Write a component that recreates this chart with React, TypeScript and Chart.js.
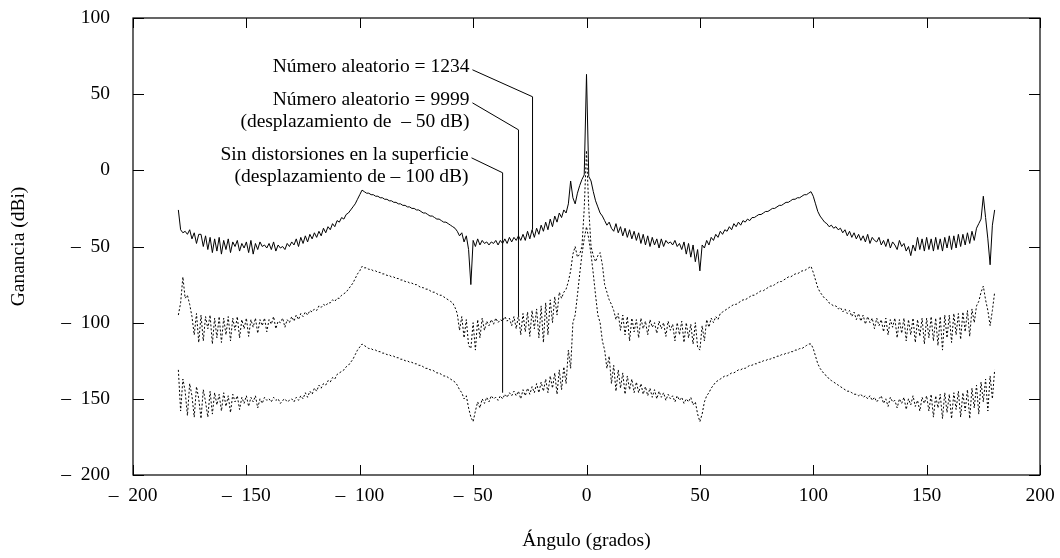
import React, { useEffect, useRef } from "react";
import { Chart, registerables } from "chart.js";

Chart.register(...registerables);

// ---------- data ----------
// Sampling grid of the gain patterns (degrees)
const ANGLE_START = -180;
const ANGLE_STEP = 1;

const X_MIN = -200;
const X_MAX = 200;
const X_STEP = 50;
const Y_MIN = -200;
const Y_MAX = 100;
const Y_STEP = 50;

const X_TITLE = "Ángulo (grados)";
const Y_TITLE = "Ganancia (dBi)";

// Random number 1234 (solid), angles -180 .. 180
const GAIN_SEED_1234 = [
  -26, -39, -41, -40, -42, -39, -45, -41, -48, -42,
  -42, -50, -43, -52, -44, -54, -45, -53, -44, -55,
  -46, -52, -45, -54, -47, -50, -46, -53, -48, -51,
  -47, -54, -46, -55, -48, -52, -47, -50, -49, -51,
  -48, -52, -47, -53, -49, -51, -50, -52, -48, -50,
  -47, -49, -45, -50, -44, -48, -43, -47, -42, -45,
  -41, -44, -40, -43, -38, -41, -37, -39, -35, -37,
  -33, -34, -31, -32, -29, -28, -26, -24, -22, -19,
  -16, -13, -14, -15, -15, -16, -16, -17, -17, -18,
  -18, -19, -19, -20, -20, -21, -21, -22, -22, -23,
  -23, -24, -24, -25, -25, -26, -26, -27, -28, -28,
  -29, -30, -30, -31, -32, -32, -33, -34, -34, -35,
  -36, -37, -38, -40, -43, -41, -47, -43, -52, -75,
  -46, -50, -45, -49, -46, -48, -47, -49, -47, -48,
  -46, -49, -46, -48, -45, -48, -44, -47, -44, -46,
  -43, -46, -42, -46, -40, -45, -39, -44, -38, -42,
  -36, -40, -34, -39, -32, -37, -30, -34, -28, -31,
  -26, -28, -22, -7, -18, -22, -15, -10, -6, -3,
  63, -4, -7, -14, -20, -24, -28, -30, -33, -36,
  -34, -38, -40, -35, -41, -37, -43, -38, -44, -39,
  -45, -40, -46, -41, -48, -42, -49, -43, -50, -44,
  -49, -45, -51, -45, -50, -46, -48, -47, -49, -46,
  -50, -48, -52, -47, -55, -48, -57, -49, -60, -52,
  -66, -49, -51, -46, -49, -44, -46, -42, -44, -40,
  -42, -39, -40, -37, -39, -35, -37, -34, -36, -33,
  -34, -32, -33, -31, -31, -30, -29, -29, -28, -27,
  -27, -26, -25, -25, -24, -23, -23, -22, -21, -21,
  -20, -19, -19, -18, -18, -17, -16, -16, -15, -14,
  -17, -22, -27, -30, -32, -34, -35, -37, -36, -38,
  -37, -39, -38, -41, -39, -43, -40, -44, -41, -45,
  -42, -46, -43, -47, -42, -48, -44, -46, -47, -44,
  -49, -46, -50, -45, -51, -47, -49, -52, -46, -50,
  -48, -53, -50, -56, -49, -53, -44, -52, -45, -53,
  -44, -52, -45, -53, -44, -52, -45, -53, -44, -51,
  -43, -52, -43, -51, -42, -50, -42, -49, -41, -48,
  -40, -46, -38, -35, -32, -17, -31, -45, -62, -36,
  -26,
];

// Random number 9999, shifted by -50 dB (dotted)
const GAIN_SEED_9999 = [
  -95, -87, -70, -84, -82, -88, -96, -108, -94, -113,
  -95, -112, -96, -104, -95, -114, -97, -110, -96, -113,
  -97, -108, -96, -112, -97, -105, -96, -110, -98, -104,
  -97, -109, -98, -103, -97, -107, -98, -102, -97, -106,
  -98, -101, -96, -104, -99, -100, -97, -103, -98, -100,
  -96, -99, -95, -98, -94, -96, -93, -95, -92, -93,
  -91, -92, -89, -90, -88, -89, -87, -87, -85, -86,
  -84, -84, -82, -81, -80, -78, -76, -74, -71, -68,
  -66, -63, -64, -64, -65, -65, -66, -66, -67, -67,
  -68, -68, -69, -69, -70, -70, -71, -71, -72, -72,
  -73, -73, -74, -74, -75, -75, -76, -77, -77, -78,
  -78, -79, -80, -80, -81, -82, -82, -83, -84, -85,
  -86, -87, -90, -94, -105, -96, -110, -98, -115, -117,
  -100, -118, -98, -110, -97, -105, -99, -102, -98, -101,
  -97, -100, -98, -99, -96, -99, -97, -102, -96, -104,
  -95, -108, -94, -106, -93, -109, -92, -104, -91, -110,
  -89, -113, -87, -108, -85, -100, -83, -95, -80, -84,
  -80, -78, -73, -66, -55, -50, -57, -55, -50, -25,
  13, -25, -50, -56, -60, -56, -54, -62, -75, -80,
  -85, -88, -92, -98, -94, -105, -95, -108, -96, -112,
  -97, -106, -98, -110, -97, -104, -99, -108, -98, -103,
  -100, -107, -99, -104, -100, -109, -99, -105, -101, -112,
  -100, -108, -99, -113, -100, -110, -101, -114, -100, -116,
  -118, -102, -112, -98, -103, -97, -100, -96, -98, -94,
  -93, -92, -91, -90, -89, -88, -88, -87, -86, -85,
  -85, -84, -83, -82, -82, -81, -80, -79, -79, -78,
  -77, -76, -76, -75, -74, -73, -73, -72, -71, -70,
  -70, -69, -68, -68, -67, -66, -66, -65, -64, -63,
  -67, -72, -77, -80, -82, -84, -85, -87, -88, -89,
  -89, -91, -90, -93, -91, -94, -92, -96, -93, -98,
  -94, -99, -95, -101, -96, -100, -97, -104, -97, -102,
  -98, -106, -97, -108, -98, -103, -97, -110, -98, -107,
  -97, -112, -98, -108, -97, -113, -98, -109, -97, -114,
  -97, -110, -96, -112, -97, -115, -96, -118, -95, -110,
  -95, -113, -94, -108, -94, -111, -93, -106, -92, -109,
  -91, -100, -89, -86, -80, -76, -85, -92, -102, -92,
  -80,
];

// No surface distortions, shifted by -100 dB (dotted)
const GAIN_NO_DISTORTION = [
  -131, -158, -137, -145, -161, -140, -148, -162, -142, -150,
  -163, -144, -152, -162, -145, -160, -146, -154, -147, -158,
  -146, -155, -148, -159, -147, -152, -148, -157, -149, -153,
  -148, -155, -149, -152, -148, -156, -150, -153, -149, -151,
  -150, -152, -149, -151, -150, -153, -151, -150, -152, -151,
  -150, -152, -149, -151, -148, -150, -146, -149, -145, -147,
  -143, -145, -141, -143, -140, -141, -138, -139, -136, -137,
  -134, -133, -132, -131, -129, -128, -126, -124, -121, -118,
  -116, -114, -115, -116, -117, -117, -118, -118, -119, -119,
  -120, -120, -121, -121, -122, -122, -123, -123, -124, -124,
  -125, -125, -126, -126, -127, -127, -128, -128, -129, -130,
  -130, -131, -131, -132, -133, -133, -134, -135, -135, -136,
  -137, -138, -139, -141, -144, -146, -150, -148, -156, -162,
  -165, -158, -152, -156, -150, -153, -149, -152, -148, -150,
  -149, -151, -148, -150, -147, -149, -146, -148, -145, -148,
  -145, -150, -144, -148, -143, -147, -142, -146, -140, -146,
  -139, -145, -137, -146, -135, -143, -133, -147, -131, -144,
  -129, -140, -118, -130, -100, -95, -82, -68, -55, -45,
  -37, -45, -55, -68, -82, -95, -100, -112, -118, -130,
  -122, -140, -128, -145, -131, -143, -133, -147, -135, -144,
  -137, -146, -139, -146, -140, -147, -142, -148, -143, -149,
  -144, -150, -145, -149, -146, -151, -147, -150, -148, -152,
  -148, -151, -149, -153, -150, -152, -149, -154, -152, -160,
  -165, -160, -152, -148, -146, -143, -141, -139, -138, -137,
  -136, -135, -135, -134, -133, -133, -132, -131, -131, -130,
  -130, -129, -128, -128, -127, -127, -126, -126, -125, -125,
  -124, -124, -123, -123, -122, -122, -121, -121, -120, -120,
  -119, -119, -118, -118, -117, -117, -116, -115, -114, -114,
  -117, -122, -127, -130, -132, -134, -135, -137, -138, -139,
  -140, -141, -142, -143, -144, -145, -145, -146, -147, -147,
  -148, -147, -149, -148, -150, -148, -151, -149, -152, -150,
  -148, -153, -150, -155, -149, -152, -151, -156, -150, -153,
  -149, -157, -150, -154, -148, -155, -151, -158, -149, -153,
  -148, -158, -147, -162, -148, -156, -147, -163, -146, -159,
  -147, -163, -146, -157, -145, -162, -146, -158, -144, -163,
  -143, -156, -141, -160, -139, -152, -137, -158, -135, -150,
  -131,
];

const SERIES_NAMES = [
  "Número aleatorio = 1234",
  "Número aleatorio = 9999 (desplazamiento de – 50 dB)",
  "Sin distorsiones en la superficie (desplazamiento de – 100 dB)",
];

// Callout labels: text lines and leader path (data coordinates)
const CALLOUT_1234_LINES = ["Número aleatorio = 1234"];
const CALLOUT_1234_PATH = [[-50.3, 66], [-23.8, 48.3], [-23.8, -39]];
const CALLOUT_9999_LINES = ["Número aleatorio = 9999", "(desplazamiento de  – 50 dB)"];
const CALLOUT_9999_PATH = [[-50.3, 44.3], [-30.0, 26.6], [-30.0, -95]];
const CALLOUT_NODIST_LINES = ["Sin distorsiones en la superficie", "(desplazamiento de – 100 dB)"];
const CALLOUT_NODIST_PATH = [[-50.7, 8.2], [-37.0, -1.6], [-37.0, -146]];

// ---------- helpers ----------
const FONT_FAMILY = '"Liberation Serif", "Times New Roman", serif';
const FONT_SIZE = 19.5;

function fmtTick(v: number): string {
  if (v < 0) return "\u2013\u2002" + String(Math.abs(v));
  return String(v);
}

function toPoints(values: number[]) {
  return values.map((y, i) => ({ x: ANGLE_START + i * ANGLE_STEP, y }));
}

const callouts = [
  { lines: CALLOUT_1234_LINES, path: CALLOUT_1234_PATH },
  { lines: CALLOUT_9999_LINES, path: CALLOUT_9999_PATH },
  { lines: CALLOUT_NODIST_LINES, path: CALLOUT_NODIST_PATH },
];

const framePlugin = {
  id: "frameAndLabels",
  afterDatasetsDraw(chart: any) {
    const { ctx, chartArea } = chart;
    const { left, right, top, bottom } = chartArea;
    const xs = chart.scales.x;
    const ys = chart.scales.y;
    ctx.save();
    ctx.strokeStyle = "#000";
    ctx.lineWidth = 1.2;
    ctx.setLineDash([]);
    ctx.strokeRect(left, top, right - left, bottom - top);

    // inward tick marks on all four sides
    ctx.lineWidth = 1;
    const tl = 10;
    ctx.beginPath();
    xs.ticks.forEach((t: any) => {
      const px = Math.round(xs.getPixelForValue(t.value)) + 0.5;
      ctx.moveTo(px, bottom);
      ctx.lineTo(px, bottom - tl);
      ctx.moveTo(px, top);
      ctx.lineTo(px, top + tl);
    });
    ys.ticks.forEach((t: any) => {
      const py = Math.round(ys.getPixelForValue(t.value)) + 0.5;
      ctx.moveTo(left, py);
      ctx.lineTo(left + tl + 1, py);
      ctx.moveTo(right, py);
      ctx.lineTo(right - tl - 1, py);
    });
    ctx.stroke();

    // callouts
    ctx.fillStyle = "#000";
    ctx.font = `${FONT_SIZE}px ${FONT_FAMILY}`;
    ctx.textAlign = "right";
    ctx.textBaseline = "middle";
    callouts.forEach((c) => {
      const pts = c.path.map(([dx, dy]) => [xs.getPixelForValue(dx), ys.getPixelForValue(dy)]);
      ctx.beginPath();
      ctx.lineWidth = 1;
      ctx.moveTo(pts[0][0], pts[0][1]);
      for (let i = 1; i < pts.length; i++) ctx.lineTo(pts[i][0], pts[i][1]);
      ctx.stroke();
      c.lines.forEach((line, i) => {
        ctx.fillText(line, pts[0][0] - 3, pts[0][1] - 3 + i * 22);
      });
    });

    // axis titles
    ctx.textAlign = "center";
    ctx.fillText(X_TITLE, (left + right) / 2, 541);
    ctx.save();
    ctx.translate(19, (top + bottom) / 2);
    ctx.rotate(-Math.PI / 2);
    ctx.fillText(Y_TITLE, 0, 0);
    ctx.restore();
    ctx.restore();
  },
};

export default function App() {
  const ref = useRef<HTMLCanvasElement | null>(null);
  useEffect(() => {
    if (!ref.current) return;
    const chart = new Chart(ref.current, {
      type: "line",
      data: {
        datasets: [
          {
            label: SERIES_NAMES[0],
            data: toPoints(GAIN_SEED_1234),
            borderColor: "#000",
            borderWidth: 1,
            pointRadius: 0,
            tension: 0,
          },
          {
            label: SERIES_NAMES[1],
            data: toPoints(GAIN_SEED_9999),
            borderColor: "#000",
            borderWidth: 1,
            borderDash: [2, 2],
            pointRadius: 0,
            tension: 0,
          },
          {
            label: SERIES_NAMES[2],
            data: toPoints(GAIN_NO_DISTORTION),
            borderColor: "#000",
            borderWidth: 1,
            borderDash: [2, 2],
            pointRadius: 0,
            tension: 0,
          },
        ],
      },
      options: {
        animation: false,
        responsive: false,
        maintainAspectRatio: false,
        layout: { padding: { top: 18, right: 20, left: 0, bottom: 0 } },
        plugins: { legend: { display: false }, tooltip: { enabled: false } },
        scales: {
          x: {
            type: "linear",
            min: X_MIN,
            max: X_MAX,
            grid: { display: false, drawTicks: false },
            border: { display: false },
            ticks: {
              stepSize: X_STEP,
              padding: 9,
              color: "#000",
              font: { family: FONT_FAMILY, size: FONT_SIZE },
              callback: (v: any) => fmtTick(Number(v)),
              maxRotation: 0,
            },
            afterFit: (s: any) => {
              s.height = 83;
              s.paddingLeft = 0;
              s.paddingRight = 0;
            },
          },
          y: {
            type: "linear",
            min: Y_MIN,
            max: Y_MAX,
            grid: { display: false, drawTicks: false },
            border: { display: false },
            ticks: {
              stepSize: Y_STEP,
              padding: 23,
              color: "#000",
              font: { family: FONT_FAMILY, size: FONT_SIZE },
              callback: (v: any) => fmtTick(Number(v)),
            },
            afterFit: (s: any) => {
              s.width = 133;
              s.paddingTop = 0;
              s.paddingBottom = 0;
            },
          },
        },
      },
      plugins: [framePlugin],
    });
    return () => chart.destroy();
  }, []);
  return (
    <div style={{ position: "fixed", left: 0, top: 0, width: 1060, height: 558, background: "#fff" }}>
      <canvas ref={ref} width={1060} height={558} style={{ display: "block" }} />
    </div>
  );
}
